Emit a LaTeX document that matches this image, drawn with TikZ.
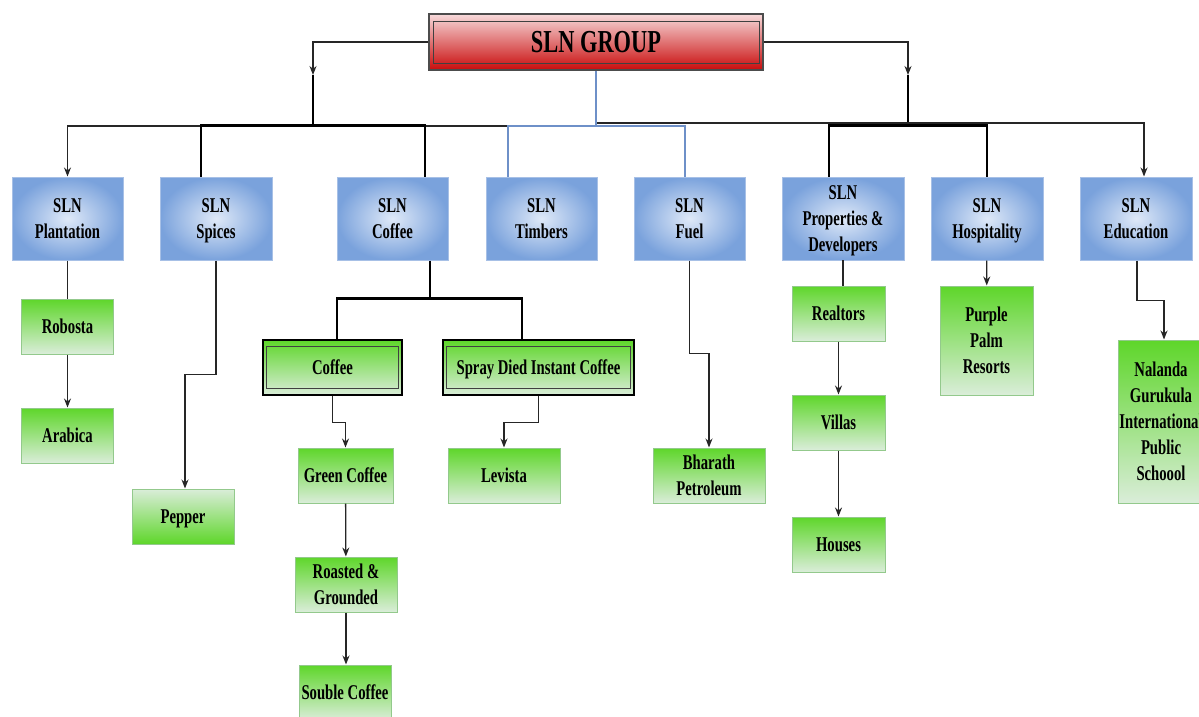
\documentclass[tikz,border=0pt]{standalone}
\usepackage{fontspec}
\newfontfamily\boxfam{Liberation Serif}[FakeStretch=0.7]
\usetikzlibrary{arrows.meta}
\definecolor{blueinner}{HTML}{DFE9F8}
\definecolor{blueouter}{HTML}{7AA2DC}
\definecolor{blueedge}{HTML}{A7C0E6}
\definecolor{greentop}{HTML}{5ED62A}
\definecolor{greenbot}{HTML}{DAEDD9}
\definecolor{greenedge}{HTML}{93C98C}
\definecolor{redtop}{HTML}{F7DADB}
\definecolor{redbot}{HTML}{C90C0C}
\definecolor{bluelink}{HTML}{6E90C8}
\begin{document}
\begin{tikzpicture}[x=1pt,y=-1pt,
  unit/.style={draw=blueedge,line width=1pt,inner color=blueinner,outer color=blueouter,minimum width=111pt,minimum height=83pt,inner sep=0pt,text depth=0pt,align=center,font=\boxfam\bfseries\fontsize{21}{26}\selectfont},
  leaf/.style={draw=greenedge,line width=1pt,top color=greentop,bottom color=greenbot,minimum width=92pt,minimum height=55pt,inner sep=0pt,text depth=0pt,align=center,font=\boxfam\bfseries\fontsize{21}{26}\selectfont},
  framed/.style={leaf,draw=black,line width=1.2pt},
  inframe/.style={draw=black!75,line width=1.6pt},
  thinline/.style={draw=black!85,line width=1.3pt},
  thickline/.style={draw=black,line width=2.8pt},
  blueline/.style={draw=bluelink,line width=1.5pt},
  arr/.style={-{Stealth[length=9pt,width=7pt]}}]
  \useasboundingbox (0,0) rectangle (1199,717);
  \node[draw=black!70,line width=1.3pt,top color=redtop,bottom color=redbot,minimum width=334pt,minimum height=56pt,inner sep=0pt,font=\boxfam\bfseries\fontsize{32}{36}\selectfont] (group) at (596,42) {SLN GROUP};
  \draw[inframe] ([shift={(5pt,-8pt)}]group.north west) rectangle ([shift={(-4pt,7pt)}]group.south east);
  \node[unit] (plant) at (67.5,218.5) {SLN\\Plantation};
  \node[unit,minimum width=112pt] (spices) at (216,218.5) {SLN\\Spices};
  \node[unit] (coffeeco) at (392.5,218.5) {SLN\\Coffee};
  \node[unit] (timbers) at (541.5,218.5) {SLN\\Timbers};
  \node[unit] (fuel) at (689.5,218.5) {SLN\\Fuel};
  \node[unit,minimum width=122pt] (props) at (843,218.5) {SLN\\Properties \&\\Developers};
  \node[unit,minimum width=112pt] (hosp) at (987,218.5) {SLN\\Hospitality};
  \node[unit,minimum width=112pt] (edu) at (1136,218.5) {SLN\\Education};
  \node[leaf] (robosta) at (67.5,326.5) {Robosta};
  \node[leaf] (arabica) at (67.5,435.5) {Arabica};
  \node[leaf,minimum width=102pt,top color=greenbot,bottom color=greentop] (pepper) at (183,516.5) {Pepper};
  \node[framed,minimum width=139pt] (cframe) at (332.5,367.5) {Coffee};
  \draw[inframe] ([shift={(4pt,-7pt)}]cframe.north west) rectangle ([shift={(-4pt,7pt)}]cframe.south east);
  \node[framed,minimum width=191pt] (spray) at (538.5,367.5) {Spray Died Instant Coffee};
  \draw[inframe] ([shift={(4pt,-7pt)}]spray.north west) rectangle ([shift={(-4pt,7pt)}]spray.south east);
  \node[leaf,minimum width=95pt] (green) at (345.5,475.5) {Green Coffee};
  \node[leaf,minimum width=112pt] (levista) at (504,475.5) {Levista};
  \node[leaf,minimum width=102pt] (roasted) at (346,584.5) {Roasted \&\\Grounded};
  \node[leaf] (souble) at (345,692.5) {Souble Coffee};
  \node[leaf,minimum width=112pt] (bharath) at (709,475.5) {Bharath\\Petroleum};
  \node[leaf,minimum width=93pt] (realtors) at (838.5,313.5) {Realtors};
  \node[leaf,minimum width=93pt] (villas) at (838.5,422.5) {Villas};
  \node[leaf,minimum width=93pt] (houses) at (838.5,544.5) {Houses};
  \node[leaf,minimum width=93pt,minimum height=109pt] (purple) at (986.5,340.5) {Purple\\Palm\\Resorts};
  \node[leaf,minimum width=86pt,minimum height=163pt] (nalanda) at (1161,421.5) {Nalanda\\Gurukula\\International\\Public\\Schoool};
  \coordinate (ltip) at (313,75);
  \coordinate (lbus) at (313,126);
  \coordinate (rtip) at (908,75);
  \coordinate (rbus) at (908,126);
  \coordinate (bjoin) at (596,126);
  \coordinate (tleft) at (508,126);
  \coordinate (tright) at (596,123);
  \draw[thinline,arr] (group.west) -| (ltip);
  \draw[thickline] (ltip) -- (lbus);
  \draw[thinline,arr] (group.east) -| (rtip);
  \draw[thickline] (rtip) -- (rbus);
  \draw[thinline,arr] (tleft) -| (plant.north);
  \draw[thinline,arr] (tright) -| ([xshift=8pt]edu.north);
  \draw[blueline] (group.south) -- (bjoin);
  \draw[blueline] ([xshift=-33.5pt]timbers.north) |- (bjoin);
  \draw[blueline] ([xshift=-4.5pt]fuel.north) |- (bjoin);
  \draw[thickline] ([xshift=-15pt]spices.north) -- ++(0,-51) -| ([xshift=32.5pt]coffeeco.north);
  \draw[thickline] ([xshift=-14pt]props.north) -- ++(0,-51) -| (hosp.north);
  \draw[thinline] (plant.south) -- (robosta.north);
  \draw[thinline,arr] (robosta) -- (arabica);
  \draw[thinline,arr] (spices.south) -- ++(0,114) -| ([xshift=2pt]pepper.north);
  \draw[thickline] ([xshift=37.5pt]coffeeco.south) -- ++(0,38) coordinate (cjoin);
  \draw[thickline] (cjoin) -| ([xshift=4.5pt]cframe.north);
  \draw[thickline] (cjoin) -| ([xshift=-16.5pt]spray.north);
  \draw[thinline,arr] (cframe.south) -- ++(0,27) -| (green.north);
  \draw[thinline,arr] (spray.south) -- ++(0,27) -| (levista.north);
  \draw[thinline,arr] (green) -- (roasted);
  \draw[thinline,arr] (roasted) -- ([xshift=1pt]souble.north);
  \draw[thinline,arr] (fuel.south) -- ++(0,93) -| (bharath.north);
  \draw[thinline] ([xshift=4.5pt]realtors.north) -- ++(0,-26);
  \draw[thinline,arr] (realtors) -- (villas);
  \draw[thinline,arr] (villas) -- (houses);
  \draw[thinline,arr] (hosp) -- (purple);
  \draw[thinline,arr] ([xshift=1pt]edu.south) -- ++(0,40) -| ([xshift=3pt]nalanda.north);
\end{tikzpicture}
\end{document}
